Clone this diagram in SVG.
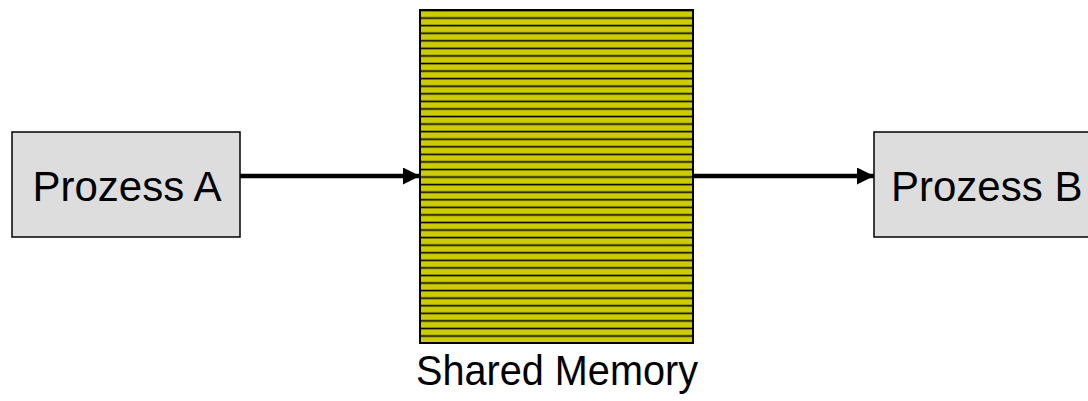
<svg xmlns="http://www.w3.org/2000/svg" width="1088" height="401" viewBox="0 0 1088 401">
<style>
.box{fill:#dddddd;stroke:#000;stroke-width:1.5}
.lbl{font-family:"Liberation Sans",Arial,sans-serif;font-size:42px;fill:#000}
.conn{stroke:#000;stroke-width:4.5;fill:none}
</style>
<defs>
<pattern id="stripes" patternUnits="userSpaceOnUse" x="0" y="10" width="8" height="7.57">
<rect width="8" height="7.57" fill="#cccc00"/>
<rect y="0" width="8" height="1.1" fill="#000"/>
<rect y="1.1" width="8" height="0.7" fill="#6b6b00"/>
<rect y="6.9" width="8" height="0.67" fill="#7a7a00"/>
</pattern>
<marker id="arr" markerUnits="userSpaceOnUse" markerWidth="18" markerHeight="18" refX="17" refY="8.5" orient="auto">
<path d="M0,0 L17,8.5 L0,17 Z" fill="#000"/>
</marker>
</defs>
<g id="procA">
<rect class="box" x="12" y="132" width="228" height="105"/>
<text class="lbl" x="127" y="201" text-anchor="middle">Prozess A</text>
</g>
<g id="procB">
<rect class="box" x="874" y="132" width="230" height="105"/>
<text class="lbl" x="891" y="201">Prozess B</text>
</g>
<g id="shm">
<rect x="420" y="10" width="273" height="333" fill="url(#stripes)" stroke="#000" stroke-width="2"/>
<text class="lbl" x="416" y="385" textLength="282" lengthAdjust="spacingAndGlyphs">Shared Memory</text>
</g>
<g id="connectors">
<line class="conn" x1="240" y1="176" x2="420" y2="176" marker-end="url(#arr)"/>
<line class="conn" x1="693" y1="176" x2="874" y2="176" marker-end="url(#arr)"/>
</g>
</svg>
